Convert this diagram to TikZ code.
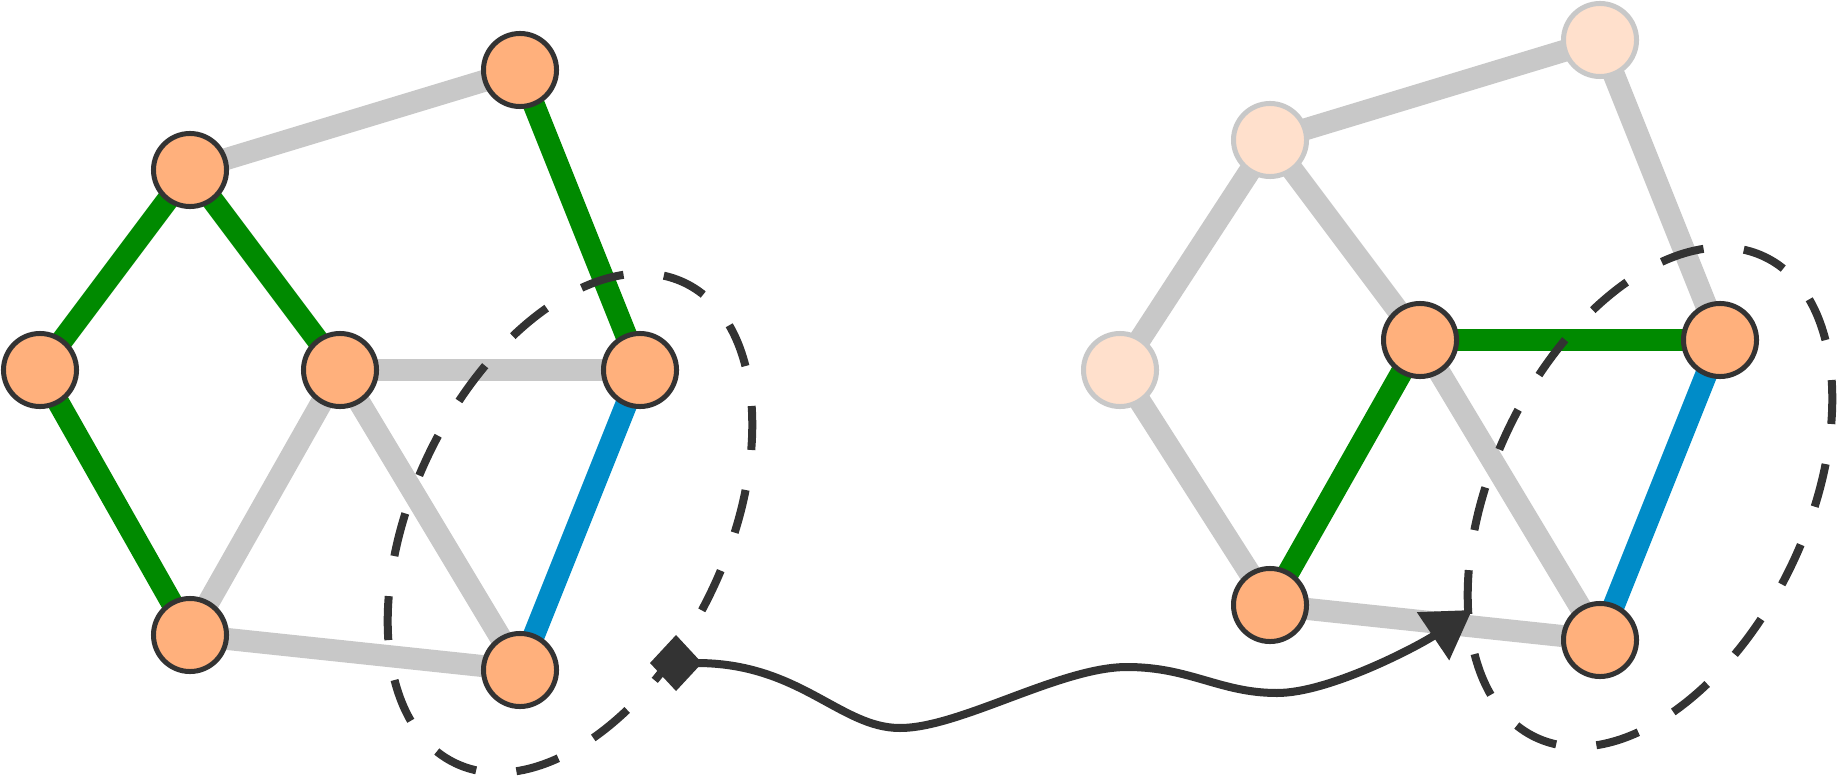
\documentclass[tikz,border=0pt]{standalone}
\usetikzlibrary{arrows.meta,backgrounds}
\definecolor{nodeor}{HTML}{FFB07C}
\definecolor{nodefade}{HTML}{FFE0CC}
\definecolor{ink}{HTML}{333333}
\definecolor{edgegray}{HTML}{C8C8C8}
\definecolor{edgegreen}{HTML}{008A00}
\definecolor{edgeblue}{HTML}{008CC8}
\begin{document}
\begin{tikzpicture}[x=0.01cm,y=-0.01cm,
  vert/.style={circle,draw=ink,fill=nodeor,line width=0.05cm,minimum size=0.73cm,inner sep=0pt},
  fadevert/.style={vert,draw=edgegray,fill=nodefade},
  gedge/.style={line width=0.22cm,draw=edgegray},
  greenedge/.style={line width=0.22cm,draw=edgegreen},
  blueedge/.style={line width=0.22cm,draw=edgeblue},
  region/.style={draw=ink,line width=0.08cm,dash pattern=on 0.44cm off 0.4044cm,dash phase=0.22cm},
  conn/.style={draw=ink,line width=0.08cm,arrows={Diamond[length=0.52cm,width=0.56cm]-Triangle[length=0.47cm,width=0.56cm]}}]
\useasboundingbox (0,0) rectangle (1837,776);

% left graph
\node[vert] (A) at (40,370) {};
\node[vert] (B) at (190,170) {};
\node[vert] (C) at (520,70) {};
\node[vert] (D) at (340,370) {};
\node[vert] (E) at (640,370) {};
\node[vert] (F) at (190,635) {};
\node[vert] (G) at (520,670) {};

% right graph
\node[fadevert] (P) at (1120,370) {};
\node[fadevert] (Q) at (1270,140) {};
\node[fadevert] (R) at (1600,40) {};
\node[vert] (S) at (1420,340) {};
\node[vert] (T) at (1720,340) {};
\node[vert] (U) at (1270,605) {};
\node[vert] (V) at (1600,640) {};

\begin{pgfonlayer}{background}
\draw[gedge] (B.center) -- (C.center);
\draw[gedge] (D.center) -- (E.center);
\draw[gedge] (D.center) -- (F.center);
\draw[gedge] (D.center) -- (G.center);
\draw[gedge] (F.center) -- (G.center);
\draw[greenedge] (A.center) -- (B.center);
\draw[greenedge] (A.center) -- (F.center);
\draw[greenedge] (B.center) -- (D.center);
\draw[greenedge] (C.center) -- (E.center);
\draw[blueedge] (E.center) -- (G.center);

\draw[gedge] (P.center) -- (Q.center);
\draw[gedge] (P.center) -- (U.center);
\draw[gedge] (Q.center) -- (S.center);
\draw[gedge] (Q.center) -- (R.center);
\draw[gedge] (R.center) -- (T.center);
\draw[gedge] (S.center) -- (V.center);
\draw[gedge] (U.center) -- (V.center);
\draw[greenedge] (S.center) -- (T.center);
\draw[greenedge] (S.center) -- (U.center);
\draw[blueedge] (T.center) -- (V.center);
\end{pgfonlayer}

% dashed regions
\coordinate (lc) at (570,523);
\coordinate (rc) at (1650,497);
\draw[region, rotate around={64.5:(lc)}] (lc) ellipse [x radius=2.66cm, y radius=1.57cm];
\draw[region, rotate around={64.5:(rc)}] (rc) ellipse [x radius=2.66cm, y radius=1.57cm];

% connector
\coordinate (cs) at (650,663);
\coordinate (ce) at (1472,610);
\draw[conn] (cs) .. controls (800,663) and (840,728) .. (900,728)
  .. controls (960,728) and (1060,667) .. (1127,667)
  .. controls (1190,667) and (1220,693) .. (1277,693)
  .. controls (1330,693) and (1420,645) .. (ce);
\end{tikzpicture}
\end{document}
